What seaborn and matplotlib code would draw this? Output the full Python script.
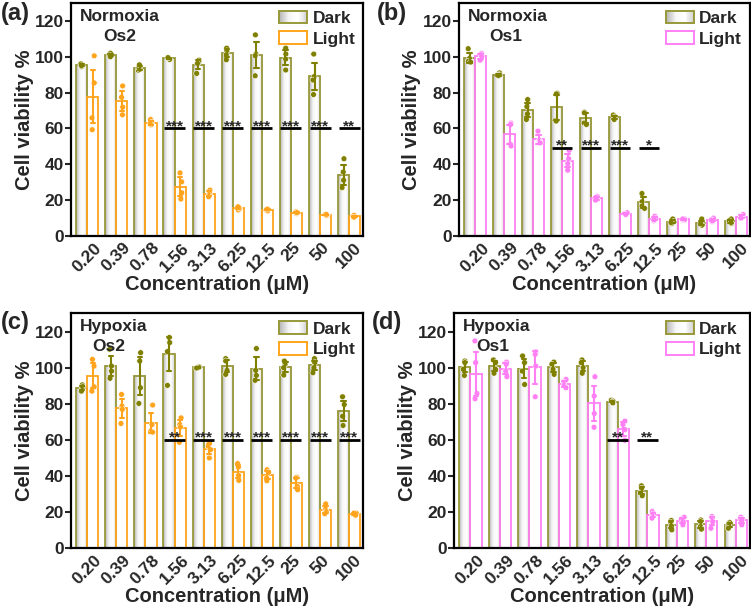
import numpy as np
import pandas as pd
import matplotlib
matplotlib.use("Agg")
import matplotlib.pyplot as plt
import seaborn as sns
from matplotlib.colors import LinearSegmentedColormap
from matplotlib.patches import Patch, Rectangle
from matplotlib.legend_handler import HandlerBase

np.random.seed(3)

# concentrations (uM)
conc = ['0.20', '0.39', '0.78', '1.56', '3.13', '6.25', '12.5', '25', '50', '100']

# replicate cell viability values
a_dark = [[94.5, 95.5, 96, 95], [100.5, 102, 101, 100], [92.5, 93, 94, 95.5],
          [99, 98.5, 99.5, 99.5], [98.1, 97.2, 96.3, 90.7], [104.8, 103.3, 101.1, 98.3],
          [112.2, 101.5, 100.6, 89.4], [104.8, 101.5, 98.7, 92.6], [101.5, 88.9, 87, 78.9],
          [43.1, 35.7, 31.1, 27]]
a_light = [[100.5, 85.4, 65.9, 59.3], [83.7, 77.4, 71.9, 67.6], [65, 63.5, 62, 62.5],
           [35.2, 30.2, 24.1, 20.6], [25.6, 24.1, 22.8, 21.9], [14.5, 15.5, 16, 16.3],
           [15, 14.5, 14, 15], [12.5, 13, 13.5, 13], [11.5, 12, 11.5, 12],
           [11, 10.5, 11.5, 10.5]]
b_dark = [[104.5, 99, 97.5, 97], [91, 90, 89.5, 89.5], [76.1, 72.2, 68.1, 65],
          [79.6, 79.3, 64.4, 64.1], [69.1, 68.7, 63, 62.2], [67.5, 66.5, 66, 65],
          [23.7, 19.1, 16.7, 15.4], [9.5, 8, 7, 7.5], [9.5, 7, 6, 7], [9.5, 8.5, 7, 7.5]]
b_light = [[101.9, 101.1, 100, 98.1], [63, 62.2, 51.1, 50.2], [58.5, 53.3, 52.4, 51.9],
           [47.8, 43.1, 40.4, 36.7], [22, 21.5, 20.5, 20], [12.5, 12, 13, 12],
           [11, 9.8, 8.5, 9], [9.5, 9, 9, 9.5], [10, 9, 8, 8.5], [12, 11, 10, 10]]
c_dark = [[90.5, 89.5, 88, 87], [110.2, 100.9, 98.1, 94.1], [108.3, 103.7, 88.9, 80.2],
          [116.7, 113.9, 108.9, 90.2], [100.5, 100, 100.2, 99.8], [105, 103.7, 98.5, 96.3],
          [110.6, 98.5, 95.7, 93], [103.7, 101.9, 100, 95.9], [105, 102.8, 100, 97.2],
          [83.9, 79.6, 73.1, 68]]
c_light = [[104.6, 100.9, 89.4, 87], [85.2, 78.7, 76.9, 69.1], [79.3, 68.5, 64.8, 64.3],
           [72.2, 68.5, 67.2, 58.7], [58.3, 56.5, 54.6, 50], [46.9, 45, 40.4, 37.6],
           [43.5, 42, 38.9, 37.4], [39.4, 38.9, 34.3, 32.4], [24.6, 21.7, 20.4, 19.1],
           [19.5, 19, 19.5, 18.3]]
d_dark = [[103.7, 102.8, 99.1, 95.7], [104.3, 102.8, 99.1, 96.9], [106.5, 102.8, 98.1, 90.7],
          [103.1, 101.9, 99.1, 96.3], [104.3, 102.8, 100, 96.9], [82, 81.5, 81, 80.5],
          [34.6, 33.3, 30.6, 29.1], [15.4, 14.3, 12.4, 10.2], [15.7, 14.8, 12, 10.6],
          [14.3, 13.5, 12.4, 11.1]]
d_light = [[114.8, 102.8, 85.7, 82.8], [103.1, 101.9, 98.1, 95], [108.7, 107.4, 100.9, 83.9],
           [93.5, 92, 90.2, 88.9], [95, 84.3, 74.6, 67], [70.4, 68.5, 65.7, 59.8],
           [20.4, 19.1, 17.6, 16.7], [17.2, 16.1, 14.8, 13], [17.6, 16.7, 14.8, 11.1],
           [17.2, 16.1, 15.4, 13]]

# significance marks (dark vs light) per concentration
a_sig = ['', '', '', '***', '***', '***', '***', '***', '***', '**']
b_sig = ['', '', '', '**', '***', '***', '*', '', '', '']
c_sig = ['', '', '', '**', '***', '***', '***', '***', '***', '***']
d_sig = ['', '', '', '', '', '**', '**', '', '', '']

olive = '#808000'
olive_edge = '#98983a'
orange = '#FFA41C'
pink = '#FF80F4'
grad = LinearSegmentedColormap.from_list('g', ['#b4b4b4', '#f6f6f6', '#ffffff', '#d2d2d2'])

sns.set_style('ticks')
plt.rcParams['font.family'] = ['Liberation Sans', 'DejaVu Sans']
plt.rcParams['font.weight'] = 'bold'
plt.rcParams['axes.labelweight'] = 'bold'


class GradientHandler(HandlerBase):
    def create_artists(self, legend, orig_handle, xd, yd, width, height, fontsize, trans):
        arts = []
        n = 30
        for i in range(n):
            arts.append(Rectangle((-xd + width * i / n, -yd), width / n * 1.05, height,
                                  facecolor=grad((i + 0.5) / n), edgecolor='none', transform=trans))
        arts.append(Rectangle((-xd, -yd), width, height, facecolor='none',
                              edgecolor=orig_handle.get_edgecolor(), lw=1.4, transform=trans))
        return arts


def make_df(dark, light):
    rows = []
    for c, dv, lv in zip(conc, dark, light):
        for v in dv:
            rows.append((c, 'Dark', v))
        for v in lv:
            rows.append((c, 'Light', v))
    return pd.DataFrame(rows, columns=['conc', 'cond', 'val'])


panels = [
    ([0.0945, 0.6106, 0.389, 0.3845], '(a)', 'Normoxia', 'Os2', a_dark, a_light, orange, a_sig, 60, 0.168),
    ([0.611, 0.6106, 0.3875, 0.3845], '(b)', 'Normoxia', 'Os1', b_dark, b_light, pink, b_sig, 49, 0.16),
    ([0.0945, 0.0952, 0.389, 0.3875], '(c)', 'Hypoxia', 'Os2', c_dark, c_light, orange, c_sig, 60, 0.13),
    ([0.6045, 0.0952, 0.394, 0.3875], '(d)', 'Hypoxia', 'Os1', d_dark, d_light, pink, d_sig, 60, 0.132),
]

fig = plt.figure(figsize=(7.51, 6.06), dpi=100)

for rect, tag, cond, cpd, dark, light, lcol, sig, sig_y, cpd_x in panels:
    ax = fig.add_axes(rect)
    df = make_df(dark, light)
    sns.barplot(data=df, x='conc', y='val', hue='cond', order=conc, hue_order=['Dark', 'Light'],
                palette=[olive_edge, lcol], fill=False, width=0.76, linewidth=1.3,
                errorbar=('sd', 0.8), capsize=0.3, err_kws={'linewidth': 1.5},
                legend=False, ax=ax)
    # gradient fill for the dark bars, colour error bars by group
    for p in list(ax.patches):
        x0, w, h = p.get_x(), p.get_width(), p.get_height()
        c = x0 + w / 2
        if c < round(c):
            ax.imshow(np.linspace(0, 1, 64)[None, :], cmap=grad, extent=[x0, x0 + w, 0, h],
                      aspect='auto', interpolation='bicubic', zorder=0.5)
    for ln in ax.lines:
        xd = np.asarray(ln.get_xdata(), dtype=float)
        if xd.size == 0 or np.isnan(xd).all():
            continue
        xm = np.nanmean(xd)
        ln.set_color(olive if xm < round(xm) else lcol)
        ln.set_zorder(4)
    sns.stripplot(data=df, x='conc', y='val', hue='cond', order=conc, hue_order=['Dark', 'Light'],
                  palette=[olive, lcol], dodge=True, jitter=0.1, size=4.2, linewidth=0.4,
                  edgecolor='#ffffff', legend=False, zorder=3, ax=ax)

    for i, s in enumerate(sig):
        if s:
            ax.plot([i - 0.36, i + 0.36], [sig_y, sig_y], color='black', lw=2, zorder=5,
                    solid_capstyle='butt')
            ax.annotate(s, (i, sig_y), xytext=(0, -1.2), textcoords='offset points',
                        ha='center', va='baseline', fontsize=11, zorder=6)

    ax.set_xlim(-0.56, 9.48)
    ax.set_ylim(0, 130)
    ax.set_yticks(range(0, 121, 20))
    ax.set_xticks(range(len(conc)))
    ax.set_xticklabels(conc, rotation=45, ha='center', fontsize=12.5)
    ax.tick_params(axis='y', labelsize=12.5, length=4, width=1.5, pad=1)
    ax.tick_params(axis='x', length=0, pad=3)
    for sp in ax.spines.values():
        sp.set_linewidth(1.6)
        sp.set_color('black')
    ax.set_xlabel('Concentration (μM)', fontsize=14.5, labelpad=0)
    ax.set_ylabel('Cell viability %', fontsize=14.5, labelpad=1)

    ax.text(0.03, 0.975, cond, transform=ax.transAxes, ha='left', va='top', fontsize=12.5)
    ax.text(cpd_x, 0.89, cpd, transform=ax.transAxes, ha='center', va='top', fontsize=12.5)

    handles = [Rectangle((0, 0), 1, 1, facecolor='none', edgecolor=olive_edge),
               Patch(facecolor='white', edgecolor=lcol, lw=1.4)]
    ax.legend(handles, ['Dark', 'Light'], loc='upper right', frameon=False, fontsize=12.5,
              handlelength=1.6, handleheight=0.75, handletextpad=0.3, labelspacing=0.3,
              borderaxespad=0.25, borderpad=0.2,
              handler_map={Rectangle: GradientHandler()})

    top = min(rect[1] + rect[3] + 0.004, 0.997)
    fig.text(rect[0] - 0.094 if tag in ('(a)', '(c)') else rect[0] - 0.109,
             top, tag, ha='left', va='top', fontsize=17)

fig.savefig('out.png', dpi=100)
